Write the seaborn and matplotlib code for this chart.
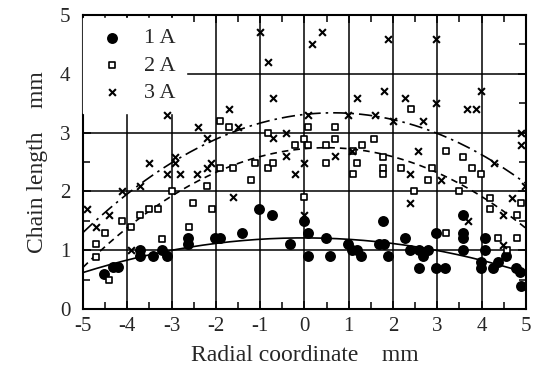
import numpy as np
import pandas as pd
import matplotlib
matplotlib.use("Agg")
import matplotlib.pyplot as plt
import seaborn as sns
from matplotlib.ticker import MultipleLocator

# 1 A (filled circles)
x_1a = [-4.52, -4.32, -4.22, -3.71, -3.71, -3.41, -3.21, -3.11, -2.62, -2.62,
        -2.02, -1.91, -1.42, -1.02, -0.73, -0.33, -0.01, 0.09, 0.09, 0.48,
        0.58, 0.98, 1.08, 1.19, 1.28, 1.78, 1.68, 1.80, 1.89, 2.28,
        2.38, 2.58, 2.68, 2.78, 2.58, 2.98, 2.98, 3.18, 3.58, 3.58,
        3.58, 3.58, 4.07, 4.07, 3.98, 3.98, 4.26, 4.37, 4.56, 4.77,
        4.86, 4.90]
y_1a = [0.60, 0.71, 0.71, 1.00, 0.90, 0.90, 1.00, 0.90, 1.20, 1.10,
        1.20, 1.20, 1.30, 1.70, 1.60, 1.10, 1.50, 1.30, 0.90, 1.20,
        0.90, 1.10, 1.00, 1.00, 0.90, 1.50, 1.10, 1.10, 0.90, 1.20,
        1.00, 1.00, 0.90, 1.00, 0.70, 1.30, 0.70, 0.70, 1.60, 1.30,
        1.20, 1.00, 1.20, 1.00, 0.80, 0.70, 0.70, 0.80, 0.90, 0.70,
        0.63, 0.40]

# 2 A (open squares)
x_2a = [-4.71, -4.71, -4.50, -4.41, -4.11, -3.92, -3.71, -3.51, -3.31, -3.21,
        -3.00, -2.61, -2.51, -2.21, -2.09, -1.91, -1.61, -1.21, -1.12, -0.82,
        -0.72, -1.91, -1.70, -0.82, -0.21, -0.01, 0.09, 0.09, -0.01, 0.49,
        0.49, 0.69, 0.69, 1.09, 1.19, 1.09, 1.29, 1.57, 2.40, 1.78,
        1.78, 1.78, 2.18, 2.89, 2.78, 3.19, 3.58, 3.79, 3.98, 3.58,
        2.48, 3.49, 4.19, 4.88, 4.19, 4.79, 3.19, 4.38, 4.79, 4.58]
y_2a = [1.10, 0.89, 1.30, 0.49, 1.50, 1.39, 1.60, 1.70, 1.70, 1.19,
        2.00, 1.39, 1.80, 2.09, 1.70, 2.40, 2.40, 2.19, 2.49, 2.39,
        2.49, 3.20, 3.09, 3.00, 2.79, 2.89, 3.09, 2.79, 1.90, 2.79,
        2.49, 3.09, 2.89, 2.69, 2.49, 2.30, 2.79, 2.89, 3.40, 2.59,
        2.39, 2.29, 2.39, 2.39, 2.19, 2.69, 2.59, 2.39, 2.29, 2.19,
        2.00, 2.00, 1.89, 1.81, 1.70, 1.60, 1.30, 1.20, 1.20, 1.00]

# 3 A (crosses)
x_3a = [-4.92, -4.71, -4.41, -4.11, -3.92, -3.71, -3.51, -3.11, -3.10, -2.92,
        -2.92, -2.81, -2.42, -2.41, -2.21, -2.21, -2.10, -1.70, -1.51, -1.62,
        -1.00, -0.82, -0.72, -0.72, -0.42, -0.42, -0.21, -0.01, -0.01, 0.09,
        0.18, 0.39, 0.69, 0.99, 1.08, 1.18, 1.59, 1.79, 1.89, 1.99,
        2.28, 2.38, 2.38, 2.57, 2.68, 2.98, 2.98, 3.08, 3.68, 3.87,
        3.98, 3.70, 4.29, 4.49, 4.49, 4.68, 4.88, 4.88, 4.98]
y_3a = [1.70, 1.39, 1.60, 2.00, 1.00, 2.09, 2.49, 3.30, 2.30, 2.59,
        2.49, 2.30, 2.30, 3.09, 2.90, 2.39, 2.49, 3.40, 3.09, 1.90,
        4.70, 4.20, 3.59, 2.90, 3.00, 2.60, 2.30, 2.49, 1.60, 3.30,
        4.50, 4.70, 2.60, 3.30, 2.69, 3.59, 3.30, 3.70, 4.59, 3.20,
        3.59, 2.29, 1.81, 2.69, 3.20, 4.59, 3.50, 2.19, 3.40, 3.40,
        3.70, 1.50, 2.49, 1.60, 1.09, 1.89, 3.00, 2.79, 2.09]

# fitted curves at integer x
curve_x = [-5, -4, -3, -2, -1, 0, 1, 2, 3, 4, 5]
curve_1a = [0.63, 0.83, 1.00, 1.11, 1.17, 1.20, 1.19, 1.13, 1.01, 0.83, 0.60]
curve_2a = [0.70, 1.38, 1.95, 2.33, 2.58, 2.70, 2.71, 2.60, 2.34, 1.92, 1.36]
curve_3a = [1.29, 1.97, 2.52, 2.88, 3.13, 3.28, 3.31, 3.24, 3.02, 2.66, 2.09]

sns.set_style("ticks")
plt.rcParams["font.family"] = ["Liberation Serif", "DejaVu Serif"]
plt.rcParams["axes.unicode_minus"] = False

fig = plt.figure(figsize=(5.36, 3.71), dpi=100)
ax = fig.add_axes([0.155, 0.167, 0.826, 0.793])

xs = np.linspace(-5, 5, 200)
curves = pd.DataFrame({"x": xs})
for name, vals in [("c1", curve_1a), ("c2", curve_2a), ("c3", curve_3a)]:
    coef = np.polyfit(curve_x, vals, 2)
    curves[name] = np.polyval(coef, xs)

sns.lineplot(data=curves, x="x", y="c1", ax=ax, color="black", lw=1.2)
sns.lineplot(data=curves, x="x", y="c2", ax=ax, color="black", lw=1.2,
             linestyle=(0, (4, 3)))
sns.lineplot(data=curves, x="x", y="c3", ax=ax, color="black", lw=1.2,
             linestyle=(0, (8, 3, 1.5, 3)))

sns.scatterplot(x=x_1a, y=y_1a, ax=ax, marker="o", s=62, color="black",
                edgecolor="black", linewidth=0, label="1 A", zorder=3)
sns.scatterplot(x=x_2a, y=y_2a, ax=ax, marker="s", s=24, facecolor="white",
                edgecolor="black", linewidth=1.2, label="2 A", zorder=3)
sns.scatterplot(x=x_3a, y=y_3a, ax=ax, marker="x", s=24, color="black",
                linewidth=1.5, label="3 A", zorder=3)

ax.set_xlim(-5, 5)
ax.set_ylim(0, 5)
ax.xaxis.set_major_locator(MultipleLocator(1))
ax.xaxis.set_minor_locator(MultipleLocator(0.5))
ax.yaxis.set_major_locator(MultipleLocator(1))
ax.yaxis.set_minor_locator(MultipleLocator(0.5))
ax.grid(True, which="major", color="black", lw=1.1)
ax.tick_params(which="both", direction="in", top=True, right=True,
               color="black", labelsize=15)
ax.tick_params(axis="x", which="major", pad=6)
ax.tick_params(axis="y", which="major", pad=9)
ax.tick_params(which="major", length=6, width=1.1)
ax.tick_params(which="minor", length=5, width=1.1)
for sp in ax.spines.values():
    sp.set_linewidth(1.5)
    sp.set_color("black")

ax.set_xlabel("Radial coordinate    mm", fontsize=17, labelpad=6)
ax.set_ylabel("Chain length    mm", fontsize=17, labelpad=9)

leg = ax.legend(loc="upper left", bbox_to_anchor=(0, 0.99), borderaxespad=0,
                fontsize=16, frameon=True, fancybox=False, framealpha=1,
                edgecolor="white", facecolor="white", handletextpad=0.6,
                labelspacing=0.3, borderpad=0.45, handlelength=1.7)
# legend sits over the grid but under the data points
leg.set_zorder(2.5)

fig.savefig("out.png", dpi=100)
